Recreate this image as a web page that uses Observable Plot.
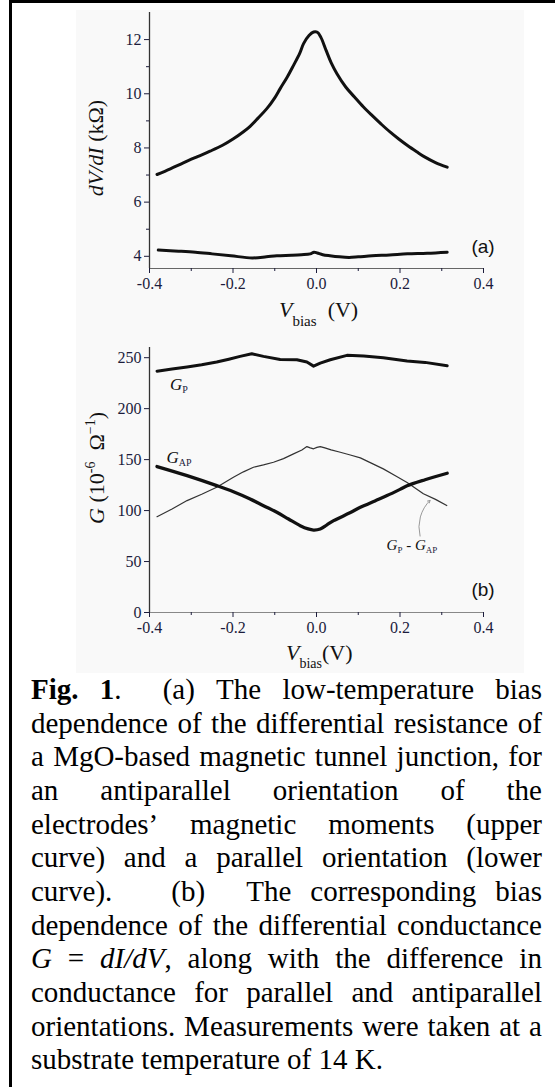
<!DOCTYPE html>
<html><head><meta charset="utf-8">
<script src="https://cdn.jsdelivr.net/npm/d3@7"></script>
<script src="https://cdn.jsdelivr.net/npm/@observablehq/plot@0.6"></script>
<style>
html,body{margin:0;padding:0;background:#fff;}
#fig{position:relative;width:555px;height:1087px;overflow:hidden;font-family:"Liberation Serif","Times New Roman",serif;}
#frame{position:absolute;left:9px;top:0;right:-5px;bottom:-5px;border-top:3px solid #000;border-left:3px solid #000;}
#bg{position:absolute;left:76px;top:10px;width:448px;height:663px;background:#f9f9f9;}
#pa{position:absolute;left:0;top:0;}
#pb{position:absolute;left:0;top:330px;}
#cap{position:absolute;left:31px;top:673px;width:511px;font-size:29px;line-height:33.67px;color:#000;font-family:"Liberation Serif","Times New Roman",serif;}
.ln{display:flex;justify-content:space-between;height:33.67px;white-space:nowrap;}
.ln.last{justify-content:flex-start;}
svg text{font-family:"Liberation Serif","Times New Roman",serif;}
</style></head><body>
<div id="fig"><div id="bg"></div><div id="frame"></div><div id="pa"></div><div id="pb"></div><div id="cap"></div></div>
<script>
// ---------- data ----------
const xTicks = [-0.4, -0.2, 0, 0.2, 0.4];
const xMinor = [-0.3, -0.1, 0.1, 0.3];
const yTicksA = [4, 6, 8, 10, 12];
const yMinorA = [5, 7, 9, 11];
const yTicksB = [0, 50, 100, 150, 200, 250];

// (a) antiparallel dV/dI (kOhm), upper curve
const biasAPa = [-0.382,-0.35,-0.319,-0.285,-0.255,-0.225,-0.199,-0.175,-0.159,-0.14,-0.119,-0.1,-0.087,-0.07,-0.055,-0.04,-0.031,-0.018,-0.007,0.002,0.01,0.023,0.035,0.049,0.07,0.091,0.112,0.133,0.155,0.176,0.197,0.218,0.24,0.26,0.285,0.313];
const resAP = [7.02,7.23,7.45,7.68,7.88,8.1,8.34,8.6,8.8,9.1,9.45,9.85,10.19,10.62,11.05,11.5,11.85,12.15,12.28,12.27,12.1,11.6,11.15,10.74,10.25,9.88,9.52,9.2,8.88,8.59,8.33,8.09,7.86,7.66,7.46,7.29];
// (a) parallel dV/dI (kOhm), lower curve
const biasPa = [-0.379,-0.33,-0.29,-0.25,-0.205,-0.154,-0.12,-0.095,-0.06,-0.036,-0.015,-0.006,0.002,0.015,0.032,0.055,0.078,0.1,0.133,0.175,0.218,0.265,0.313];
const resP = [4.23,4.19,4.15,4.09,4.02,3.94,3.98,4.02,4.04,4.06,4.09,4.15,4.12,4.06,4.02,3.98,3.96,3.98,4.02,4.05,4.09,4.11,4.15];

// (b) G_P (1e-6 / Ohm)
const biasGP = [-0.382,-0.346,-0.31,-0.275,-0.239,-0.21,-0.183,-0.155,-0.127,-0.087,-0.047,-0.023,-0.007,0.009,0.033,0.073,0.113,0.16,0.217,0.26,0.313];
const condP = [236.8,238.8,240.8,243,245.7,248.5,251.3,253.9,251.3,248.3,248,245.7,241.7,244.7,248,252.3,251.6,250,246.7,245.4,242.1];
// (b) G_AP
const biasGAP = [-0.382,-0.31,-0.239,-0.199,-0.159,-0.127,-0.095,-0.067,-0.039,-0.02,-0.007,0.009,0.025,0.041,0.08,0.105,0.14,0.169,0.2,0.217,0.26,0.313];
const condAP = [143.2,134.3,124.5,118.5,111.4,104.8,98.3,91.7,85.2,82.0,80.9,81.9,86.0,90.1,97.8,103.2,109.5,114.7,120.8,124.3,130.2,136.6];
// (b) G_P - G_AP
const biasDiff = [-0.382,-0.346,-0.31,-0.275,-0.239,-0.199,-0.175,-0.151,-0.127,-0.103,-0.079,-0.055,-0.035,-0.023,-0.015,-0.007,0.001,0.009,0.02,0.035,0.057,0.081,0.105,0.13,0.16,0.19,0.217,0.256,0.285,0.312];
const condDiff = [94,101.5,109.8,116,122.9,132.7,138,142.5,144.8,147.4,151,155.6,159.5,162.8,161.5,160.6,162,162.8,161.5,159.5,157.2,154.5,151.7,146.8,140.9,134,127.5,116.5,111,104.9];

const captionLines = [
  ["<b>Fig.</b>", "<b>1</b>.", "(a)", "The", "low-temperature", "bias"],
  ["dependence","of","the","differential","resistance","of"],
  ["a","MgO-based","magnetic","tunnel","junction,","for"],
  ["an","antiparallel","orientation","of","the"],
  ["electrodes’","magnetic","moments","(upper"],
  ["curve)","and","a","parallel","orientation","(lower"],
  ["curve).","(b)","The","corresponding","bias"],
  ["dependence","of","the","differential","conductance"],
  ["<i>G</i>","=","<i>dI/dV</i>,","along","with","the","difference","in"],
  ["conductance","for","parallel","and","antiparallel"],
  ["orientations.","Measurements","were","taken","at","a"],
  ["substrate temperature of 14 K."]
];
const captionExtraGap = {"0-2": 20, "6-1": 40, "6-2": 22};

// ---------- helpers ----------
const serif = '"Liberation Serif","Times New Roman",serif';
const ink = "#1c1c3c";
const pts = (xs, ys) => xs.map((x, i) => ({x, y: ys[i]}));

function addText(svg, x, y, parts, {anchor = "start", rotate = 0, size = 16, family = serif, fill = "#111"} = {}) {
  const t = d3.select(svg).append("text")
    .attr("transform", `translate(${x},${y})` + (rotate ? ` rotate(${rotate})` : ""))
    .attr("text-anchor", anchor).style("font-family", family).attr("font-size", size).attr("fill", fill);
  let prev = 0;
  for (const p of parts) {
    const s = p.shift || 0;
    const ts = t.append("tspan").text(p.t);
    if (s !== prev) ts.attr("dy", s - prev);
    prev = s;
    if (p.dx) ts.attr("dx", p.dx);
    if (p.i) ts.attr("font-style", "italic");
    if (p.s) ts.attr("font-size", p.s);
    if (p.fill) ts.attr("fill", p.fill);
  }
}

const axisFont = {fontFamily: serif, fontSize: 16};
const common = {
  width: 555, marginLeft: 149, marginRight: 72,
  x: {domain: [-0.4, 0.4]},
  style: {background: "transparent", fontFamily: serif, fontSize: "16px", color: ink}
};

// ---------- panel (a) ----------
const pa = Plot.plot({
  ...common, height: 330, marginTop: 12, marginBottom: 62,
  y: {domain: [3.55, 13]},
  marks: [
    Plot.ruleX([-0.4], {stroke: "#333", strokeWidth: 1.3}),
    Plot.ruleY([3.55], {stroke: "#666", strokeWidth: 1.2}),
    Plot.axisX({ticks: xTicks, tickSize: 5, tickPadding: 4, tickFormat: d => d.toFixed(1), label: null, ...axisFont}),
    Plot.axisX({ticks: xMinor, tickSize: 3, tickFormat: () => "", label: null}),
    Plot.axisY({ticks: yTicksA, tickSize: 5, tickPadding: 3, tickFormat: d => String(d), label: null, ...axisFont}),
    Plot.axisY({ticks: yMinorA, tickSize: 3, tickFormat: () => "", label: null}),
    Plot.line(pts(biasAPa, resAP), {x: "x", y: "y", stroke: "#111", strokeWidth: 3, curve: "catmull-rom"}),
    Plot.line(pts(biasPa, resP), {x: "x", y: "y", stroke: "#111", strokeWidth: 3, curve: "catmull-rom"})
  ]
});
document.getElementById("pa").append(pa);
{
  const sx = pa.scale("x"), sy = pa.scale("y");
  addText(pa, 103, (sy.apply(3.55) + sy.apply(13)) / 2 + 8, [{t: "dV/dI", i: true}, {t: "\u00a0(kΩ)"}], {anchor: "middle", rotate: -90, size: 22});
  addText(pa, sx.apply(0) - 37, 317, [{t: "V", i: true}, {t: "bias", s: 15, shift: 9, dx: 0}, {t: "\u00a0\u00a0(V)", shift: 0}], {size: 22});
  addText(pa, sx.apply(0.4), sy.apply(4.1), [{t: "(a)"}], {anchor: "middle", size: 19, family: '"Liberation Sans",Arial,sans-serif'});
}

// ---------- panel (b) ----------
const pb = Plot.plot({
  ...common, height: 340, marginTop: 17, marginBottom: 58,
  y: {domain: [0, 260]},
  marks: [
    Plot.ruleX([-0.4], {stroke: "#333", strokeWidth: 1.3}),
    Plot.ruleY([0], {stroke: "#888", strokeWidth: 1.2}),
    Plot.axisX({ticks: xTicks, tickSize: 5, tickPadding: 4, tickFormat: d => d.toFixed(1), label: null, ...axisFont}),
    Plot.axisX({ticks: xMinor, tickSize: 3, tickFormat: () => "", label: null}),
    Plot.axisY({ticks: yTicksB, tickSize: 5, tickPadding: 3, tickFormat: d => String(d), label: null, ...axisFont}),
    Plot.line(pts(biasDiff, condDiff), {x: "x", y: "y", stroke: "#333", strokeWidth: 1.2}),
    Plot.line(pts(biasGP, condP), {x: "x", y: "y", stroke: "#111", strokeWidth: 3}),
    Plot.line(pts(biasGAP, condAP), {x: "x", y: "y", stroke: "#111", strokeWidth: 3.3, curve: "catmull-rom"}),
    Plot.arrow([0], {x1: 0.248, y1: 75, x2: 0.272, y2: 110, bend: 30, stroke: "#999", strokeWidth: 1, headLength: 4})
  ]
});
document.getElementById("pb").append(pb);
{
  const sx = pb.scale("x"), sy = pb.scale("y");
  addText(pb, 104, 138, [{t: "G", i: true}, {t: "\u00a0(10"}, {t: "-6", s: 14, shift: -9}, {t: "\u00a0\u00a0Ω", shift: 0}, {t: "−1", s: 14, shift: -9}, {t: ")", shift: 0}], {anchor: "middle", rotate: -90, size: 22});
  addText(pb, sx.apply(0) - 30, 330, [{t: "V", i: true}, {t: "bias", s: 14, shift: 8, dx: 0}, {t: "(V)", shift: 0}], {size: 22});
  addText(pb, sx.apply(0.4), sy.apply(15.4), [{t: "(b)"}], {anchor: "middle", size: 19, family: '"Liberation Sans",Arial,sans-serif'});
  addText(pb, sx.apply(-0.35), sy.apply(218), [{t: "G", i: true}, {t: "P", s: 10, shift: 3, fill: ink}], {size: 17});
  addText(pb, sx.apply(-0.358), sy.apply(146), [{t: "G", i: true}, {t: "AP", s: 10, shift: 3, fill: ink}], {size: 17});
  addText(pb, sx.apply(0.169), sy.apply(61), [{t: "G", i: true}, {t: "P", s: 9, shift: 3, fill: ink}, {t: "\u00a0-\u00a0", shift: 0}, {t: "G", i: true}, {t: "AP", s: 9, shift: 3, fill: ink}], {size: 15});
}

// ---------- caption ----------
const cap = document.getElementById("cap");
captionLines.forEach((words, li) => {
  const div = document.createElement("div");
  div.className = "ln" + (li === captionLines.length - 1 ? " last" : "");
  words.forEach((w, wi) => {
    const sp = document.createElement("span");
    sp.innerHTML = w;
    const extra = captionExtraGap[li + "-" + wi];
    if (extra) sp.style.marginLeft = extra + "px";
    div.append(sp);
  });
  cap.append(div);
});
</script></body></html>
